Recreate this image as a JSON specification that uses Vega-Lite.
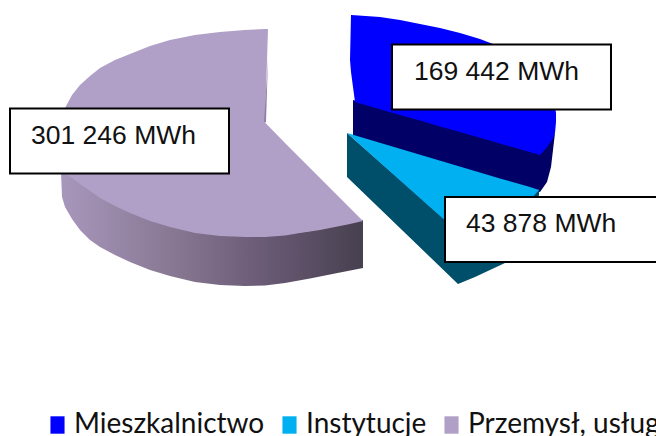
{"$schema":"https://vega.github.io/schema/vega-lite/v6.json","width":656,"height":436,"padding":0,"autosize":{"type":"none"},"background":"white","view":{"stroke":null},
"datasets":{"outline":[
{"part":"purpleSide","x":61,"y":171,"y2":172},{"part":"purpleSide","x":62,"y":171,"y2":197},{"part":"purpleSide","x":65,"y":173,"y2":207},{"part":"purpleSide","x":72,"y":177,"y2":219},{"part":"purpleSide","x":80,"y":183,"y2":230},{"part":"purpleSide","x":90,"y":190,"y2":240},{"part":"purpleSide","x":100,"y":197,"y2":247},{"part":"purpleSide","x":115,"y":205,"y2":255},{"part":"purpleSide","x":130,"y":212,"y2":262},{"part":"purpleSide","x":150,"y":220,"y2":270},{"part":"purpleSide","x":170,"y":226,"y2":276},{"part":"purpleSide","x":195,"y":232,"y2":282},{"part":"purpleSide","x":220,"y":235,"y2":285},{"part":"purpleSide","x":245,"y":236,"y2":286},{"part":"purpleSide","x":265,"y":236,"y2":285.5},{"part":"purpleSide","x":285,"y":234.5,"y2":283},{"part":"purpleSide","x":310,"y":231,"y2":278.5},{"part":"purpleSide","x":335,"y":226,"y2":273.5},{"part":"purpleSide","x":363,"y":220,"y2":268},
{"part":"Przemysł, usługi","x":60,"y":150,"y2":172},{"part":"Przemysł, usługi","x":62,"y":125,"y2":172},{"part":"Przemysł, usługi","x":65,"y":108,"y2":174},{"part":"Przemysł, usługi","x":72,"y":95,"y2":178},{"part":"Przemysł, usługi","x":80,"y":85,"y2":184},{"part":"Przemysł, usługi","x":90,"y":76,"y2":191},{"part":"Przemysł, usługi","x":100,"y":68,"y2":198},{"part":"Przemysł, usługi","x":115,"y":60,"y2":206},{"part":"Przemysł, usługi","x":130,"y":54,"y2":213},{"part":"Przemysł, usługi","x":150,"y":46,"y2":221},{"part":"Przemysł, usługi","x":170,"y":40,"y2":227},{"part":"Przemysł, usługi","x":195,"y":35,"y2":233},{"part":"Przemysł, usługi","x":220,"y":32,"y2":236},{"part":"Przemysł, usługi","x":245,"y":30,"y2":237},{"part":"Przemysł, usługi","x":265,"y":29,"y2":237},{"part":"Przemysł, usługi","x":265.5,"y":123,"y2":237},{"part":"Przemysł, usługi","x":285,"y":143,"y2":235.5},{"part":"Przemysł, usługi","x":300,"y":158,"y2":233},{"part":"Przemysł, usługi","x":320,"y":178,"y2":230},{"part":"Przemysł, usługi","x":335,"y":193,"y2":227},{"part":"Przemysł, usługi","x":350,"y":208,"y2":224},{"part":"Przemysł, usługi","x":363,"y":221,"y2":221},
{"part":"tip","x":265,"y":29,"y2":123},{"part":"tip","x":268,"y":29,"y2":29},
{"part":"sliver","x":264,"y":122,"y2":122},{"part":"sliver","x":266,"y":92,"y2":122},{"part":"sliver","x":268,"y":58,"y2":58},
{"part":"blueSide","x":353,"y":100,"y2":136},{"part":"blueSide","x":540,"y":154,"y2":192},{"part":"blueSide","x":547,"y":146,"y2":182},{"part":"blueSide","x":551,"y":139,"y2":167},{"part":"blueSide","x":555,"y":133,"y2":133},
{"part":"Mieszkalnictwo","x":350,"y":60,"y2":60},{"part":"Mieszkalnictwo","x":351,"y":15,"y2":72},{"part":"Mieszkalnictwo","x":355,"y":15.2,"y2":102},{"part":"Mieszkalnictwo","x":380,"y":17,"y2":109.2},{"part":"Mieszkalnictwo","x":400,"y":20,"y2":115},{"part":"Mieszkalnictwo","x":420,"y":24,"y2":120.6},{"part":"Mieszkalnictwo","x":440,"y":28,"y2":126.4},{"part":"Mieszkalnictwo","x":460,"y":33,"y2":132},{"part":"Mieszkalnictwo","x":480,"y":39,"y2":137.8},{"part":"Mieszkalnictwo","x":493,"y":44,"y2":141.5},{"part":"Mieszkalnictwo","x":520,"y":60,"y2":149.3},{"part":"Mieszkalnictwo","x":540,"y":80,"y2":155},{"part":"Mieszkalnictwo","x":547,"y":90,"y2":147},{"part":"Mieszkalnictwo","x":552,"y":100,"y2":140},{"part":"Mieszkalnictwo","x":555,"y":107,"y2":133},{"part":"Mieszkalnictwo","x":556,"y":113,"y2":122},
{"part":"tealSide","x":347,"y":133,"y2":177},{"part":"tealSide","x":458,"y":231,"y2":284},{"part":"tealSide","x":475,"y":227,"y2":277},{"part":"tealSide","x":505,"y":214,"y2":263},{"part":"tealSide","x":530,"y":194,"y2":225},{"part":"tealSide","x":539,"y":189,"y2":195},
{"part":"Instytucje","x":347,"y":133,"y2":133},{"part":"Instytucje","x":458,"y":166,"y2":232},{"part":"Instytucje","x":500,"y":178.5,"y2":222},{"part":"Instytucje","x":530,"y":187,"y2":200},{"part":"Instytucje","x":539,"y":190,"y2":190}
],
"labels":[
{"sector":"Mieszkalnictwo","mwh":169442,"label":"169 442 MWh","x":392,"x2":611,"y":44.5,"y2":109.5,"tx":414,"ty":80},
{"sector":"Instytucje","mwh":43878,"label":"43 878 MWh","x":445,"x2":662,"y":197,"y2":262,"tx":466,"ty":232},
{"sector":"Przemysł, usługi","mwh":301246,"label":"301 246 MWh","x":10,"x2":229,"y":108.5,"y2":173.5,"tx":31,"ty":144}
]},
"data":{"name":"outline"},
"encoding":{"x":{"field":"x","type":"quantitative","scale":{"domain":[0,656],"nice":false,"zero":false},"axis":null},"y":{"field":"y","type":"quantitative","scale":{"domain":[436,0],"nice":false,"zero":false},"axis":null}},
"layer":[
{"transform":[{"filter":"datum.part==='purpleSide'"}],"mark":{"type":"area","fill":{"gradient":"linear","x1":0,"x2":1,"y1":0,"y2":0,"stops":[{"offset":0,"color":"#a897bc"},{"offset":0.4,"color":"#85758f"},{"offset":0.65,"color":"#6c5c78"},{"offset":1,"color":"#47404f"}]}},"encoding":{"y2":{"field":"y2"}}},
{"transform":[{"filter":"datum.part==='blueSide'"}],"mark":{"type":"area","fill":"#000066"},"encoding":{"y2":{"field":"y2"}}},
{"transform":[{"filter":"datum.part==='tealSide'"}],"mark":{"type":"area","fill":"#004f6a"},"encoding":{"y2":{"field":"y2"}}},
{"transform":[{"filter":"indexof(['Mieszkalnictwo','Instytucje','Przemysł, usługi'],datum.part)>=0"}],"mark":{"type":"area"},"encoding":{"y2":{"field":"y2"},"color":{"field":"part","type":"nominal","sort":null,"scale":{"domain":["Mieszkalnictwo","Instytucje","Przemysł, usługi"],"range":["#0000ff","#00b0f0","#b09fc6"]},"legend":{"title":null,"orient":"none","legendX":42.5,"legendY":410,"direction":"horizontal","columns":3,"columnPadding":10,"symbolType":"M-0.47,-0.58H0.47V0.58H-0.47Z","symbolSize":900,"symbolStrokeWidth":0,"symbolOpacity":1,"labelFont":"Lato","labelFontSize":28,"labelColor":"#111111","labelOffset":1.5,"labelLimit":400,"padding":0}}}},
{"transform":[{"filter":"datum.part==='tip'"}],"mark":{"type":"area","fill":"#b09fc6"},"encoding":{"y2":{"field":"y2"}}},
{"transform":[{"filter":"datum.part==='sliver'"}],"mark":{"type":"area","fill":"#8f7fa6"},"encoding":{"y2":{"field":"y2"}}},
{"data":{"name":"labels"},"mark":{"type":"rect","fill":"white","stroke":"black","strokeWidth":2},"encoding":{"x2":{"field":"x2"},"y2":{"field":"y2"}}},
{"data":{"name":"labels"},"mark":{"type":"text","align":"left","baseline":"alphabetic","font":"Liberation Sans","fontSize":26.5,"color":"#111111"},"encoding":{"x":{"field":"tx","type":"quantitative"},"y":{"field":"ty","type":"quantitative"},"text":{"field":"label"}}}
]}
